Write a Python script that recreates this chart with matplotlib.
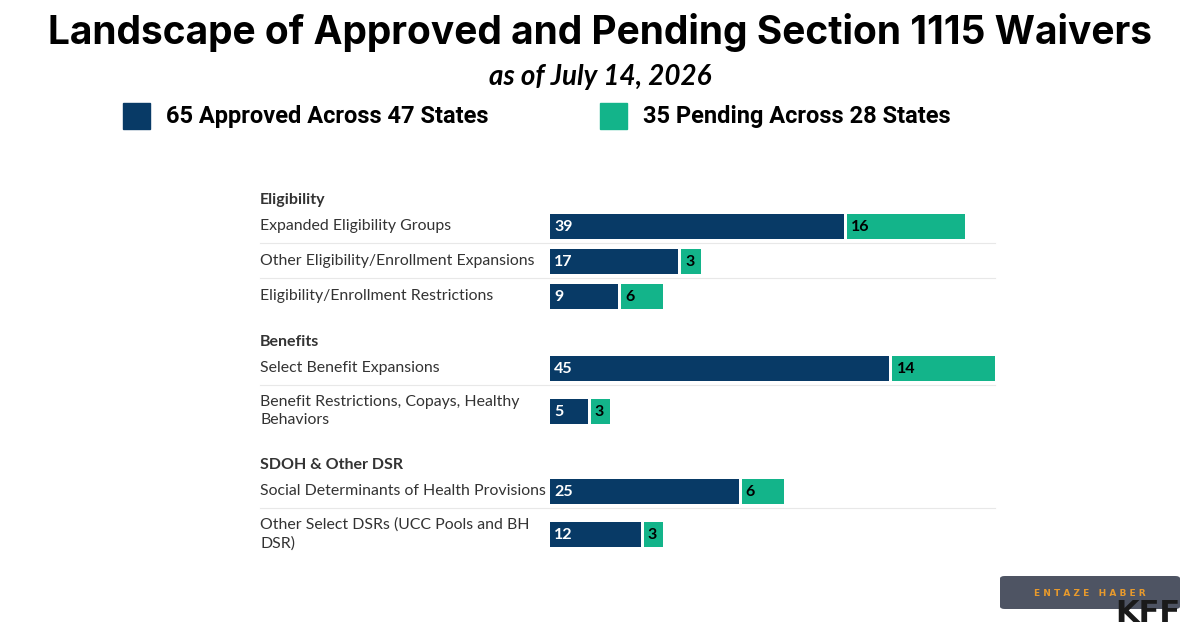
import matplotlib.pyplot as plt
from matplotlib.patches import FancyBboxPatch

# data
groups = ['Eligibility', 'Benefits', 'SDOH & Other DSR']
categories = [
    ['Expanded Eligibility Groups', 'Other Eligibility/Enrollment Expansions',
     'Eligibility/Enrollment Restrictions'],
    ['Select Benefit Expansions', 'Benefit Restrictions, Copays, Healthy\nBehaviors'],
    ['Social Determinants of Health Provisions', 'Other Select DSRs (UCC Pools and BH\nDSR)'],
]
approved = [[39, 17, 9], [45, 5], [25, 12]]
pending = [[16, 3, 6], [14, 3], [6, 3]]
legend_labels = ['65 Approved Across 47 States', '35 Pending Across 28 States']

NAVY = '#083a66'
GREEN = '#13b48a'
TEXT = '#333333'

W, H = 1200, 630
fig = plt.figure(figsize=(12, 6.3), dpi=100)
fig.patch.set_facecolor('white')

# title block
fig.text(0.5, 1 - 32 / H, 'Landscape of Approved and Pending Section 1115 Waivers',
         ha='center', va='center', fontsize=28, fontweight='bold', family='Inter', color='black')
fig.text(0.5, 1 - 77 / H, 'as of July 14, 2026', ha='center', va='center',
         fontsize=20, fontweight='bold', style='italic', family='Lato', color='black')

# legend
for i, (lab, col) in enumerate(zip(legend_labels, [NAVY, GREEN])):
    x0 = [123, 600][i]
    fig.patches.append(plt.Rectangle((x0 / W, 1 - 129 / H), 27 / W, 26 / H,
                                     transform=fig.transFigure, color=col))
    fig.text((x0 + 43) / W, 1 - 116 / H, lab, ha='left', va='center', fontsize=17,
             fontweight='bold', family='Roboto', color='black')

# layout of rows (pixel cursor, top-down)
rows = []  # (kind, text, y, a, p)
y = 200
for g, cats, a_vals, p_vals in zip(groups, categories, approved, pending):
    rows.append(('h', g, y, None, None))
    prev_lines = 1
    for j, (c, a, p) in enumerate(zip(cats, a_vals, p_vals)):
        lines = c.count('\n') + 1
        y += 26 if j == 0 else 35 + 8 * (lines - 1)
        rows.append(('r', c, y, a, p))
        prev_lines = lines
    y += 46 + 8 * (prev_lines - 1)

top, bottom = 180, 570
xmax = max(a + p for av, pv in zip(approved, pending) for a, p in zip(av, pv))
ax = fig.add_axes([550 / W, 1 - bottom / H, (995 - 550) / W, (bottom - top) / H])
ax.set_xlim(0, xmax)
ax.set_ylim(bottom, top)
ax.axis('off')

gap = 3 * xmax / (995 - 550)
prev_y = None
for kind, text, yy, a, p in rows:
    if kind == 'h':
        fig.text(260 / W, 1 - yy / H, text, ha='left', va='center', fontsize=11.5,
                 fontweight='bold', family='Lato', color=TEXT)
        prev_y = None
        continue
    if prev_y is not None:
        ly = prev_y + 17
        fig.lines.append(plt.Line2D([260 / W, 995 / W], [1 - ly / H, 1 - ly / H],
                                    transform=fig.transFigure, color='#e8e8e8', lw=0.8))
    fig.text(260 / W, 1 - yy / H, text, ha='left', va='center', fontsize=11.4,
             family='Lato', color=TEXT, linespacing=1.45)
    ax.barh(yy, a, height=25, color=NAVY)
    ax.barh(yy, p - gap, left=a + gap, height=25, color=GREEN)
    ax.text(0.55, yy + 1, str(a), ha='left', va='center', color='white', fontsize=11.5,
            fontweight='bold', family='Lato')
    ax.text(a + gap + 0.55, yy + 1, str(p), ha='left', va='center', color='black', fontsize=11.5,
            fontweight='bold', family='Lato')
    prev_y = yy

# watermark
box = FancyBboxPatch((1000 / W, 1 - 609 / H), 180 / W, 33 / H, boxstyle='round,pad=0,rounding_size=0.004',
                     transform=fig.transFigure, facecolor='#4e5463', edgecolor='none')
fig.patches.append(box)
fig.text(1090 / W, 1 - 594 / H, 'E N T A Z E   H A B E R', ha='center', va='center',
         fontsize=6.5, fontweight='bold', color='#e89a2c', family='DejaVu Sans')
fig.text(1180 / W, 1 - 614 / H, 'KFF', ha='right', va='center', fontsize=22,
         fontweight='bold', color='#1a1a1a', family='DejaVu Sans')

fig.savefig('out.png', dpi=100)
